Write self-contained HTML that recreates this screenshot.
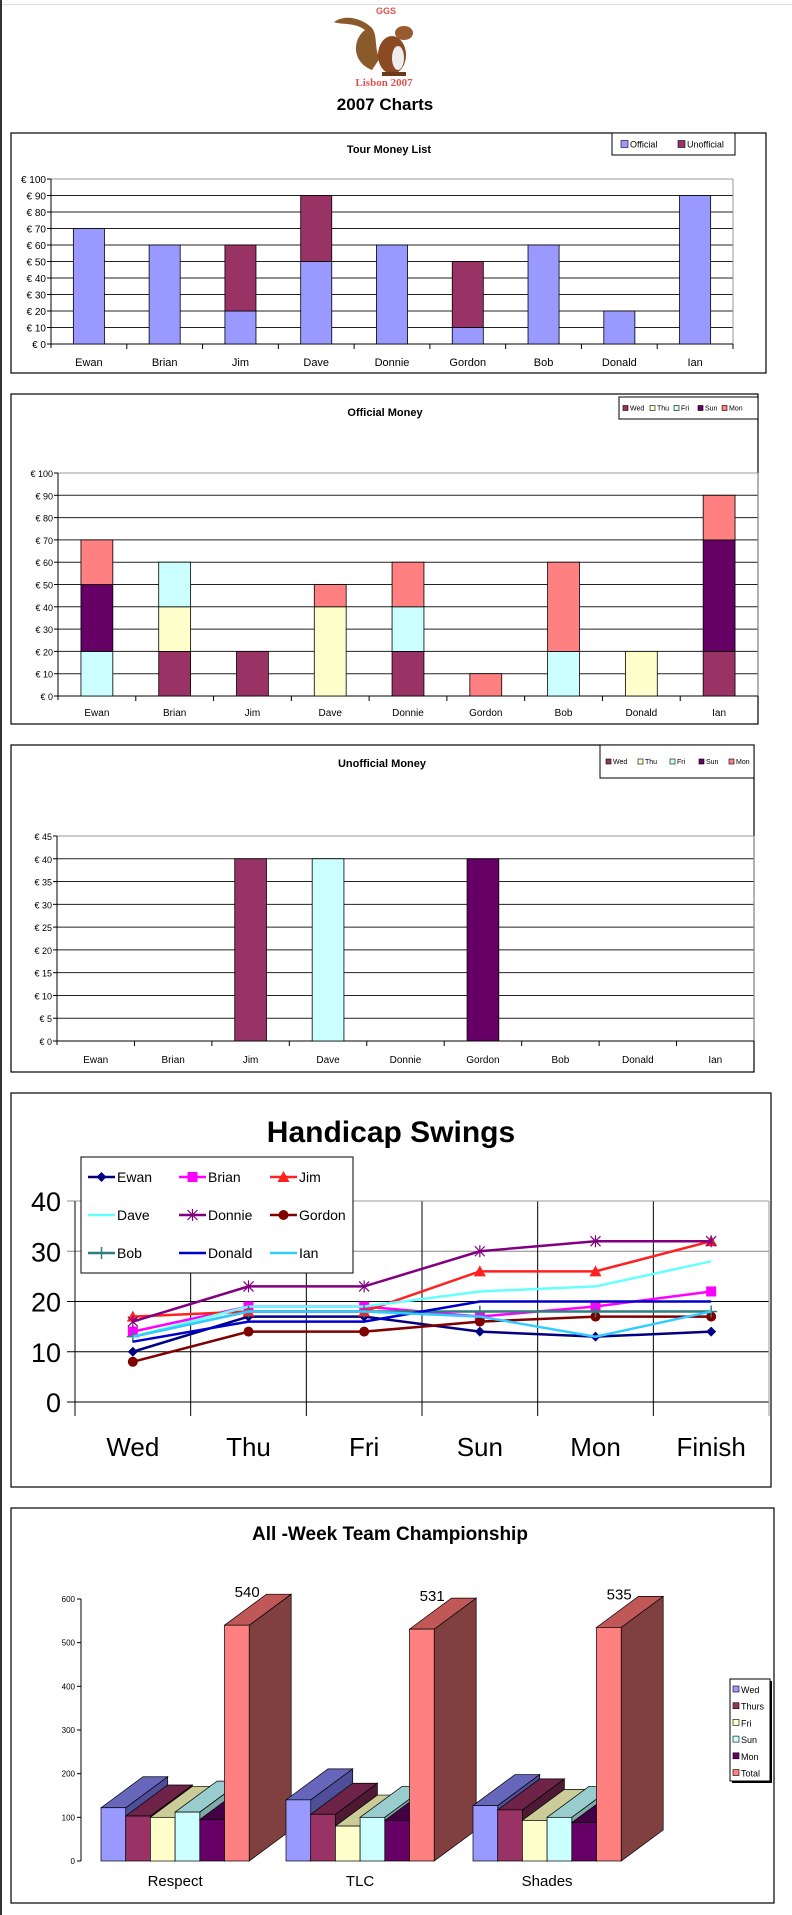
<!DOCTYPE html>
<html><head><meta charset="utf-8"><title>2007 Charts</title>
<style>
html,body{margin:0;padding:0;background:#fff;}
svg{display:block;font-family:"Liberation Sans",Arial,sans-serif;}
</style></head>
<body>
<svg id="root" width="792" height="1915" viewBox="0 0 792 1915" xmlns="http://www.w3.org/2000/svg">
<rect x="0" y="0" width="2" height="1915" fill="#333"/>
<line x1="2" y1="4.5" x2="792" y2="4.5" stroke="#ddd"/>
<g>
 <text x="386" y="14" font-size="9" font-weight="bold" fill="#d9534f" text-anchor="middle">GGS</text>
 <path d="M372,70 C352,62 352,40 365,30 C355,22 340,25 334,22 C345,14 362,18 372,28 C378,36 374,50 380,58 Z" fill="#8a5a2b"/>
 <ellipse cx="392" cy="55" rx="14" ry="19" fill="#8b4a22"/>
 <ellipse cx="398" cy="58" rx="6" ry="12" fill="#eee"/>
 <ellipse cx="404" cy="33" rx="9" ry="7" fill="#9a5a30"/>
 <rect x="382" y="72" width="24" height="4" fill="#6b3a1a"/>
 <text x="384" y="86" font-size="11" font-weight="bold" fill="#d9534f" text-anchor="middle" font-family="Liberation Serif,serif">Lisbon 2007</text>
</g>
<text x="385" y="110" font-size="17" font-weight="bold" text-anchor="middle">2007 Charts</text>
<g id="c1"></g><g id="c2"></g><g id="c3"></g><g id="c4"></g><g id="c5"></g>
</svg>
<script>
const NS="http://www.w3.org/2000/svg";
function mk(p,t,a,txt){const e=document.createElementNS(NS,t);for(const k in a)e.setAttribute(k,a[k]);if(txt!==undefined)e.textContent=txt;p.appendChild(e);return e;}

// ===== Data =====
const players=["Ewan","Brian","Jim","Dave","Donnie","Gordon","Bob","Donald","Ian"];
const tourOfficial=[70,60,20,50,60,10,60,20,90];
const tourUnofficial=[0,0,40,40,0,40,0,0,0];
const days=["Wed","Thu","Fri","Sun","Mon"];
const offWed=[0,20,20,0,20,0,0,0,20];
const offThu=[0,20,0,40,0,0,0,20,0];
const offFri=[20,20,0,0,20,0,20,0,0];
const offSun=[30,0,0,0,0,0,0,0,50];
const offMon=[20,0,0,10,20,10,40,0,20];
const unWed=[0,0,40,0,0,0,0,0,0];
const unThu=[0,0,0,0,0,0,0,0,0];
const unFri=[0,0,0,40,0,0,0,0,0];
const unSun=[0,0,0,0,0,40,0,0,0];
const unMon=[0,0,0,0,0,0,0,0,0];
const moneyTicks=[0,10,20,30,40,50,60,70,80,90,100];
const unofficialTicks=[0,5,10,15,20,25,30,35,40,45];
const dayColors=["#993366","#FFFFCC","#CCFFFF","#660066","#FF8080"];

// Handicap
const hcDays=["Wed","Thu","Fri","Sun","Mon","Finish"];
const hcNames=["Ewan","Brian","Jim","Dave","Donnie","Gordon","Bob","Donald","Ian"];
const hcEwan=[10,17,17,14,13,14];
const hcBrian=[14,19,19,17,19,22];
const hcJim=[17,18,18,26,26,32];
const hcDave=[13,19,19,22,23,28];
const hcDonnie=[16,23,23,30,32,32];
const hcGordon=[8,14,14,16,17,17];
const hcBob=[13,18,18,18,18,18];
const hcDonald=[12,16,16,20,20,20];
const hcIan=[13,18,18,17,13,18];
const hcTicks=[0,10,20,30,40];

// Team
const teams=["Respect","TLC","Shades"];
const teamSeries=["Wed","Thurs","Fri","Sun","Mon","Total"];
const tWed=[122,140,127];
const tThurs=[103,107,117];
const tFri=[100,80,93];
const tSun=[112,100,100];
const tMon=[95,93,88];
const tTotal=[540,531,535];
const teamTicks=[0,100,200,300,400,500,600];

// ===== Generic stacked bar chart =====
function barChart(g,o){
  mk(g,'rect',{x:o.fx,y:o.fy,width:o.fw,height:o.fh,fill:'#fff',stroke:'#000','stroke-width':1.2,});
  mk(g,'text',{x:o.tx,y:o.ty,'font-size':11,'font-weight':'bold','text-anchor':'middle',},o.title);
  const yv=v=>o.y0-(v/o.max)*(o.y0-o.ytop);
  const n=players.length, cw=(o.x1-o.x0)/n;
  o.ticks.forEach((t,i)=>{
    const y=yv(t);
    const l=mk(g,'line',{x1:o.x0,y1:y,x2:o.x1,y2:y,stroke:(i===o.ticks.length-1)?'#999':'#222','stroke-width':1});
    
    
    const tk=mk(g,'line',{x1:o.x0-4,y1:y,x2:o.x0,y2:y,stroke:'#000'});
    
    
    const lb=mk(g,'text',{x:o.x0-5,y:y+4,'font-size':o.fs,'text-anchor':'end'},'€ '+t);
    
    
  });
  mk(g,'line',{x1:o.x1,y1:o.ytop,x2:o.x1,y2:o.y0,stroke:'#999'});
  mk(g,'line',{x1:o.x0,y1:o.ytop,x2:o.x0,y2:o.y0+4,stroke:'#000',});
  mk(g,'line',{x1:o.x0,y1:o.y0,x2:o.x1,y2:o.y0,stroke:'#000',});
  const bw=cw*0.41;
  for(let i=0;i<n;i++){
    const cx=o.x0+cw*(i+0.5);
    let acc=0;
    o.series.forEach((s,si)=>{
      const v=s[i]; if(v<=0)return;
      const yT=yv(acc+v), yB=yv(acc);
      const r=mk(g,'rect',{x:cx-bw/2,y:yT,width:bw,height:yB-yT,fill:o.colors[si],stroke:'#000','stroke-width':0.8});
      
      
      acc+=v;
    });
    const tk=mk(g,'line',{x1:o.x0+cw*(i+1),y1:o.y0,x2:o.x0+cw*(i+1),y2:o.y0+5,stroke:'#000'});
    
    
    const lb=mk(g,'text',{x:cx,y:o.ly,'font-size':o.fs+1,'text-anchor':'middle'},players[i]);
    
    
  }
  // legend
  const L=o.leg;
  mk(g,'rect',{x:L.x,y:L.y,width:L.w,height:L.h,fill:'#fff',stroke:'#000','stroke-width':1,});
  let lx=L.x+L.pad;
  o.snames.forEach((s,si)=>{
    const e=mk(g,'rect',{x:lx,y:L.y+L.h/2-L.fs/2+0.5,width:L.fs-1,height:L.fs-1,fill:o.colors[si],stroke:'#000','stroke-width':0.6});
    
    
    const t=mk(g,'text',{x:lx+L.fs+1,y:L.y+L.h/2+L.fs/2-0.5,'font-size':L.fs+1},s);
    
    
    lx+=L.step[si];
  });
}

barChart(document.getElementById('c1'),{name:'tour-money',title:'Tour Money List',fx:11,fy:133,fw:755,fh:240,tx:389,ty:153,
  x0:51,x1:733,y0:344,ytop:179,max:100,ticks:moneyTicks,fs:10,ly:366,
  series:[tourOfficial,tourUnofficial],colors:['#9999FF','#993366'],snames:['Official','Unofficial'],
  leg:{x:612,y:133,w:123,h:22,pad:9,fs:8,step:[57,0]}});
barChart(document.getElementById('c2'),{name:'official-money',title:'Official Money',fx:11,fy:394,fw:747,fh:330,tx:385,ty:416,
  x0:58,x1:758,y0:696,ytop:473,max:100,ticks:moneyTicks,fs:9,ly:716,
  series:[offWed,offThu,offFri,offSun,offMon],colors:dayColors,snames:days,
  leg:{x:619,y:397,w:139,h:22,pad:4,fs:6,step:[27,24,24,24,0]}});
barChart(document.getElementById('c3'),{name:'unofficial-money',title:'Unofficial Money',fx:11,fy:745,fw:743,fh:327,tx:382,ty:767,
  x0:57,x1:754,y0:1041,ytop:836,max:45,ticks:unofficialTicks,fs:9,ly:1063,
  series:[unWed,unThu,unFri,unSun,unMon],colors:dayColors,snames:days,
  leg:{x:600,y:745,w:154,h:33,pad:6,fs:6,step:[32,32,29,30,0]}});

// ===== Handicap line chart =====
(function(){
  const g=document.getElementById('c4');
  mk(g,'rect',{x:11,y:1093,width:760,height:394,fill:'#fff',stroke:'#000','stroke-width':1.2,});
  mk(g,'text',{x:391,y:1142,'font-size':30,'font-weight':'bold','text-anchor':'middle',},'Handicap Swings');
  const x0=75,x1=769,y0=1402,yt=1201,max=40;
  const cw=(x1-x0)/hcDays.length;
  const X=i=>x0+cw*(i+0.5), Y=v=>y0-(v/max)*(y0-yt);
  hcTicks.forEach((t,i)=>{
    const y=Y(t);
    const l=mk(g,'line',{x1:x0-8,y1:y,x2:x1,y2:y,stroke:i===hcTicks.length-1||i===3?'#888':'#000','stroke-width':1});
    
    
    const lb=mk(g,'text',{x:x0-14,y:y+10,'font-size':27,'text-anchor':'end'},String(t));
    
    
  });
  for(let i=0;i<=hcDays.length;i++){
    const x=x0+cw*i;
    const l=mk(g,'line',{x1:x,y1:yt,x2:x,y2:y0+14,stroke:i===hcDays.length?'#999':'#000','stroke-width':1});
    
    
  }
  mk(g,'line',{x1:x0,y1:yt,x2:x1,y2:yt,stroke:'#999'});
  hcDays.forEach((d,i)=>{
    const t=mk(g,'text',{x:X(i),y:1456,'font-size':26,'text-anchor':'middle'},d);
    
    
  });
  const series=[hcEwan,hcBrian,hcJim,hcDave,hcDonnie,hcGordon,hcBob,hcDonald,hcIan];
  const cols=['#000080','#FF00FF','#FF2020','#66FFFF','#800080','#800000','#2F7F7F','#0000CC','#33CCFF'];
  const marks=['diamond','square','triangle','none','star','circle','plus','none','none'];
  function marker(p,m,x,y,c){
    let e=null;
    if(m==='diamond')e=mk(p,'path',{d:`M${x},${y-5}L${x+5},${y}L${x},${y+5}L${x-5},${y}Z`,fill:c});
    else if(m==='square')e=mk(p,'rect',{x:x-5,y:y-5,width:10,height:10,fill:c});
    else if(m==='triangle')e=mk(p,'path',{d:`M${x},${y-6}L${x+6},${y+5}L${x-6},${y+5}Z`,fill:c});
    else if(m==='circle')e=mk(p,'circle',{cx:x,cy:y,r:5,fill:c});
    else if(m==='star')e=mk(p,'path',{d:`M${x-5},${y-5}L${x+5},${y+5}M${x+5},${y-5}L${x-5},${y+5}M${x},${y-6}L${x},${y+6}`,stroke:c,'stroke-width':1.2,fill:'none'});
    else if(m==='plus')e=mk(p,'path',{d:`M${x-6},${y}L${x+6},${y}M${x},${y-6}L${x},${y+6}`,stroke:c,'stroke-width':1.5,fill:'none'});
    return e;
  }
  series.forEach((s,si)=>{
    const sg=mk(g,'g',{});
    
    
    const pts=s.map((v,i)=>X(i)+','+Y(v)).join(' ');
    const pl=mk(sg,'polyline',{points:pts,fill:'none',stroke:cols[si],'stroke-width':2.5});
    
    
    s.forEach((v,i)=>{const m=marker(sg,marks[si],X(i),Y(v),cols[si]); if(m){}});
  });
  // legend
  mk(g,'rect',{x:81,y:1157,width:272,height:116,fill:'#fff',stroke:'#000','stroke-width':1,});
  hcNames.forEach((n,i)=>{
    const r=Math.floor(i/3), c=i%3;
    const lx=88+c*91, ly=1177+r*38;
    const l=mk(g,'line',{x1:lx,y1:ly,x2:lx+27,y2:ly,stroke:cols[i],'stroke-width':2.5});
    
    
    marker(g,marks[i],lx+13.5,ly,cols[i]);
    const t=mk(g,'text',{x:lx+29,y:ly+5,'font-size':14},n);
    
    
  });
})();

// ===== Team championship 3D =====
(function(){
  const g=document.getElementById('c5');
  mk(g,'rect',{x:11,y:1508,width:763,height:395,fill:'#fff',stroke:'#000','stroke-width':1.2,});
  mk(g,'text',{x:390,y:1540,'font-size':19,'font-weight':'bold','text-anchor':'middle',},'All -Week Team Championship');
  const ax=81,y0=1861,yt=1599,max=600;
  const Y=v=>y0-(v/max)*(y0-yt);
  mk(g,'line',{x1:ax,y1:yt,x2:ax,y2:y0,stroke:'#000',});
  teamTicks.forEach(t=>{
    const y=Y(t);
    const k=mk(g,'line',{x1:ax-4,y1:y,x2:ax,y2:y,stroke:'#000'});
    
    
    const l=mk(g,'text',{x:ax-6,y:y+3,'font-size':8,'text-anchor':'end'},String(t));
    
    
  });
  const series=[tWed,tThurs,tFri,tSun,tMon,tTotal];
  const front=['#9999FF','#993366','#FFFFCC','#CCFFFF','#660066','#FF8080'];
  const top=['#6666BB','#6E2448','#CCCC99','#99CCCC','#440044','#C05858'];
  const side=['#4F4F99','#4E1A33','#A8A87E','#7FAAAA','#330033','#804040'];
  const gx=[101,286,473], bw=24.7, dx=42, dy=31;
  teams.forEach((tm,ti)=>{
    series.forEach((s,si)=>{
      const x=gx[ti]+si*bw, y=Y(s[ti]);
      const bg=mk(g,'g',{});
      
      
      mk(bg,'path',{d:`M${x+bw},${y}L${x+bw+dx},${y-dy}L${x+bw+dx},${y0-dy}L${x+bw},${y0}Z`,fill:side[si],stroke:'#000','stroke-width':0.7});
      mk(bg,'path',{d:`M${x},${y}L${x+dx},${y-dy}L${x+bw+dx},${y-dy}L${x+bw},${y}Z`,fill:top[si],stroke:'#000','stroke-width':0.7});
      mk(bg,'rect',{x:x,y:y,width:bw,height:y0-y,fill:front[si],stroke:'#000','stroke-width':0.7});
      if(si===series.length-1){
        const t=mk(g,'text',{x:x+bw-2,y:y-dy+3,'font-size':15,'text-anchor':'middle'},String(s[ti]));
        
        
      }
    });
    const l=mk(g,'text',{x:gx[ti]+3*bw,y:1886,'font-size':15,'text-anchor':'middle'},tm);
    
    
  });
  mk(g,'rect',{x:732,y:1681,width:40,height:102,fill:'#000',});
  mk(g,'rect',{x:730,y:1679,width:40,height:102,fill:'#fff',stroke:'#000',});
  teamSeries.forEach((n,i)=>{
    const y=1686+i*16.7;
    const r=mk(g,'rect',{x:733,y:y,width:6,height:6,fill:front[i],stroke:'#000','stroke-width':0.6});
    
    
    const t=mk(g,'text',{x:741,y:y+7,'font-size':9},n);
    
    
  });
})();
</script>
</body></html>
